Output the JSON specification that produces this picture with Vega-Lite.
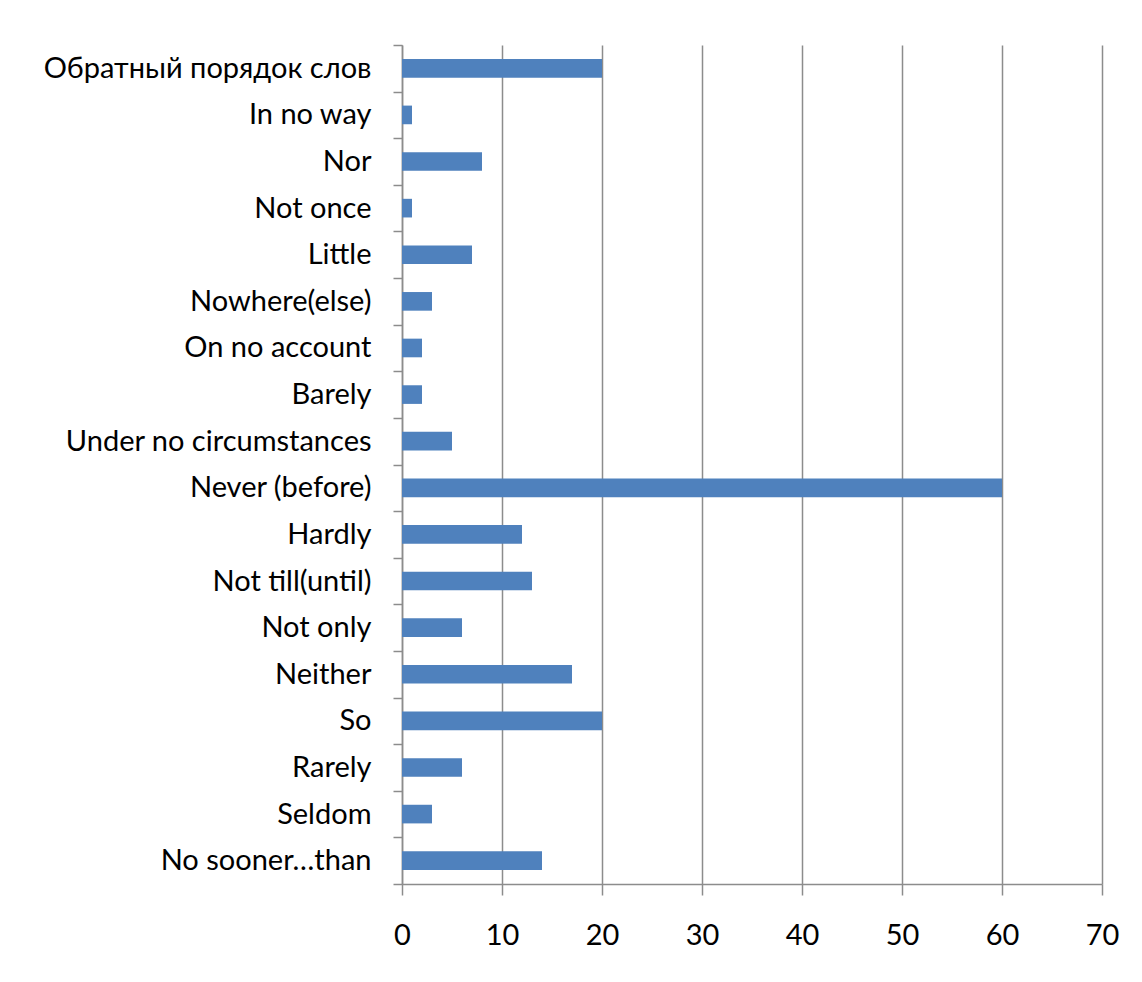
{
  "$schema": "https://vega.github.io/schema/vega-lite/v6.json",
  "width": 700,
  "height": 839,
  "autosize": {"type": "none"},
  "padding": {"left": 402, "top": 45, "right": 40, "bottom": 98},
  "background": "white",
  "data": {"values": [
    {"cat": "Обратный порядок слов", "v": 20},
    {"cat": "In no way", "v": 1},
    {"cat": "Nor", "v": 8},
    {"cat": "Not once", "v": 1},
    {"cat": "Little", "v": 7},
    {"cat": "Nowhere(else)", "v": 3},
    {"cat": "On no account", "v": 2},
    {"cat": "Barely", "v": 2},
    {"cat": "Under no circumstances", "v": 5},
    {"cat": "Never (before)", "v": 60},
    {"cat": "Hardly", "v": 12},
    {"cat": "Not till(until)", "v": 13},
    {"cat": "Not only", "v": 6},
    {"cat": "Neither", "v": 17},
    {"cat": "So", "v": 20},
    {"cat": "Rarely", "v": 6},
    {"cat": "Seldom", "v": 3},
    {"cat": "No sooner…than", "v": 14}
  ]},
  "mark": {"type": "bar", "color": "#4F81BD", "height": {"band": 0.4}},
  "encoding": {
    "y": {
      "field": "cat", "type": "nominal", "sort": null,
      "scale": {"paddingInner": 0, "paddingOuter": 0},
      "axis": {
        "title": null, "tickBand": "extent", "tickSize": 9, "labelPadding": 22,
        "labelFont": "Lato", "labelFontSize": 29, "labelColor": "#000",
        "domainColor": "#8c8c8c", "tickColor": "#8c8c8c", "domainWidth": 1.5, "tickWidth": 1.5,
        "grid": false, "labelLimit": 400
      }
    },
    "x": {
      "field": "v", "type": "quantitative",
      "scale": {"domain": [0, 70], "nice": false},
      "axis": {
        "title": null, "values": [0, 10, 20, 30, 40, 50, 60, 70], "tickSize": 11, "labelPadding": 26,
        "labelFlush": false,
        "labelFont": "Lato", "labelFontSize": 29, "labelColor": "#000",
        "domainColor": "#8c8c8c", "tickColor": "#8c8c8c", "gridColor": "#8c8c8c",
        "domainWidth": 1.5, "tickWidth": 1.5, "gridWidth": 1.5, "grid": true
      }
    }
  },
  "config": {"view": {"stroke": null}}
}
